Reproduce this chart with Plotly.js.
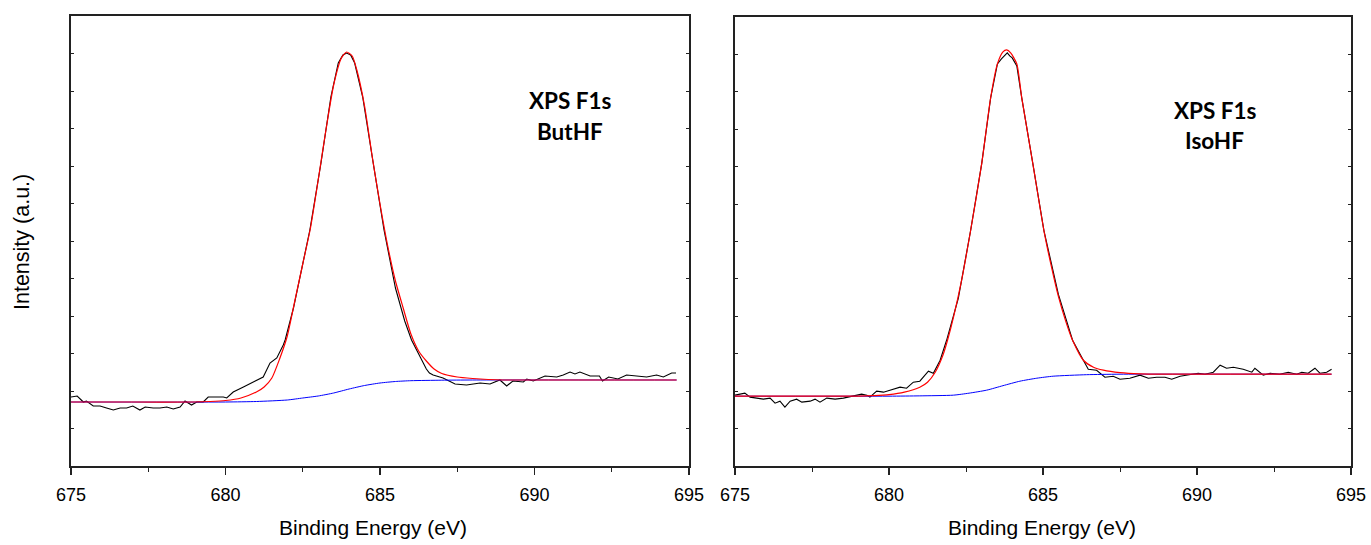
<!DOCTYPE html>
<html>
<head>
<meta charset="utf-8">
<script src="https://cdn.plot.ly/plotly-3.0.1.min.js"></script>
<style>
html,body{margin:0;padding:0;background:#fff;}
#chart{width:1371px;height:545px;}
</style>
</head>
<body>
<div id="chart"></div>
<script>
// ---- Left panel: ButHF (intensity in arbitrary units) ----
const butE = [675.0,675.2,675.4,675.5,675.72,675.94,676.15,676.37,676.59,676.8,677.0,677.23,677.4,677.66,677.88,678.1,678.31,678.53,678.69,678.9,679.07,679.28,679.44,679.7,679.93,680.04,680.25,680.58,680.9,681.22,681.44,681.66,681.87,681.93,682.2,682.45,682.73,683.09,683.41,683.65,683.8,683.92,684.05,684.18,684.44,684.78,685.13,685.5,685.8,686.02,686.35,686.5,686.6,686.72,687.04,687.43,687.8,688.24,688.56,688.88,689.1,689.3,689.64,689.75,689.96,690.34,690.72,690.93,691.15,691.31,691.47,691.8,692.1,692.2,692.4,692.7,692.98,693.3,693.63,693.95,694.17,694.44,694.58];
const butRaw = [69,70,64,65,60,60,58,56,58,58,60,56,59,58,58,59,57,59,65,61,64,64,69,69,69,68,74,79,84,89,103,108,121,126,158,196,236,303,369,403,411,413,411,403,369,303,236,178,145,126,106,97,93,91,88,82,81,83,82,86,80,85,84,87,85,90,89,91,94,92,94,90,90,85,89,87,91,90,89,91,89,93,93];
const butFitE = [675.0,677.0,679.0,679.5,680.0,680.5,681.0,681.25,681.5,681.75,682.0,682.25,682.5,682.75,683.0,683.25,683.5,683.75,683.92,684.1,684.25,684.5,684.75,685.0,685.25,685.5,685.75,686.0,686.25,686.5,686.75,687.0,687.5,688.0,688.5,689.0,690.0,694.6];
const butFit = [64,64,64,64.5,65.5,68,74,79,88,107,130,166,202,238,286,336,381,408,414,410,396,360,309,262,220,185,158,132,115,105,97,92.5,89,87.5,86.5,86,86,86];
const butBgE = [675.0,680.0,681.0,682.0,682.5,683.0,683.5,684.0,684.5,685.0,685.5,686.0,687.0,688.0,694.6];
const butBg = [64,64,64.5,66,68,70,73,77,80.5,83,84.5,85.3,85.8,86,86];

// ---- Right panel: IsoHF ----
const isoE = [675.0,675.16,675.32,675.49,675.7,675.92,676.14,676.3,676.46,676.62,676.79,677.0,677.17,677.44,677.6,677.76,677.98,678.25,678.52,678.84,679.11,679.28,679.38,679.6,679.82,680.03,680.36,680.57,680.79,681.0,681.28,681.44,681.66,681.87,682.25,682.65,683.01,683.3,683.52,683.65,683.75,683.84,683.92,684.0,684.15,684.31,684.67,685.03,685.5,685.96,686.31,686.47,686.74,687.01,687.28,687.5,687.82,688.15,688.42,688.69,688.96,689.18,689.45,689.77,690.04,690.26,690.53,690.75,690.96,691.18,691.5,691.78,691.88,692.15,692.37,692.69,692.96,693.24,693.4,693.61,693.83,693.99,694.21,694.37];
const isoRaw = [71,72,73,69,68,67,68,63,65,59,65,67,64,65,67,64,68,67,68,70,72,71,69,75,74,76,79,78,84,85,95,93,106,126,168,236,303,369,403,408,411,414,411,409,401,369,303,236,172,126,106,97,96,89,90,87,88,91,88,89,89,87,90,92,93,92,94,101,98,99,97,94,98,91,93,92,94,92,94,93,98,93,94,97];
const isoFitE = [675.0,678.0,679.0,679.5,680.0,680.5,681.0,681.25,681.5,681.75,681.9,682.1,682.35,682.65,683.01,683.3,683.52,683.7,683.82,683.95,684.15,684.31,684.67,685.03,685.25,685.5,685.75,685.96,686.31,686.64,686.96,687.5,688.15,689.0,694.37];
const isoFit = [70,70,70,70.5,71.5,74,79,84,94,111,126,150,185,236,303,369,403,415,417,414,403,369,303,236,203,170,144,126,106,99,96,93.5,92.3,92,92];
const isoBgE = [675.0,680.0,681.0,682.09,682.6,683.17,683.7,684.25,684.8,685.33,686.41,687.5,694.37];
const isoBg = [70,70,70.3,71,73,76,80.5,85,88,90,91.5,92,92];

const xTicks = [675,680,685,690,695];

const W = 1371, H = 545;
const dom1 = [71/W, 689/W];
const dom2 = [735/W, 1351/W];
const ydom1 = [1-466/H, 1-16/H];
const ydom2 = [1-466/H, 1-17/H];

const AXFONT = '"Liberation Sans", Arial, sans-serif';
const LBLFONT = 'Lato, "Open Sans", sans-serif';

function lineTrace(x, y, color, w, shape, xa, ya) {
  return {x:x, y:y, type:'scatter', mode:'lines', xaxis:xa, yaxis:ya,
          line:{color:color, width:w, shape:shape, smoothing:0.6}, hoverinfo:'skip', showlegend:false};
}

const traces = [
  lineTrace(butE, butRaw, '#000000', 1.1, 'linear', 'x', 'y'),
  lineTrace(butBgE, butBg, '#0000ff', 1, 'spline', 'x', 'y'),
  lineTrace(butFitE, butFit, '#ff0000', 1.2, 'spline', 'x', 'y'),
  lineTrace(isoE, isoRaw, '#000000', 1.1, 'linear', 'x2', 'y2'),
  lineTrace(isoBgE, isoBg, '#0000ff', 1, 'spline', 'x2', 'y2'),
  lineTrace(isoFitE, isoFit, '#ff0000', 1.2, 'spline', 'x2', 'y2')
];

function xAxis(domain, ya) {
  return {
    domain: domain, range:[675,695], anchor:ya,
    tickmode:'array', tickvals:xTicks, ticktext:xTicks.map(String),
    ticks:'outside', ticklen:7, tickwidth:1.2, tickcolor:'#222',
    minor:{dtick:2.5, tick0:675, ticks:'outside', ticklen:4, tickwidth:1, tickcolor:'#222'},
    showline:true, linecolor:'#222', linewidth:2, mirror:true,
    showgrid:false, zeroline:false, ticklabelstandoff:4,
    tickfont:{family:AXFONT, size:18, color:'#000'}
  };
}
function yAxis(domain, xa) {
  return {domain: domain, range:[0,450], anchor:xa, showticklabels:false,
          ticks:'inside', ticklen:3, tickwidth:1, tickcolor:'#222', dtick:37.5, tick0:0,
          showline:true, linecolor:'#222', linewidth:2, mirror:'ticks',
          showgrid:false, zeroline:false};
}

function ann(text, x, y, font, size, angle) {
  return {text:text, xref:'paper', yref:'paper', x:x/W, y:1-y/H, xanchor:'center', yanchor:'middle',
          showarrow:false, textangle:angle||0, font:{family:font, size:size, color:'#000'}};
}

const layout = {
  width:W, height:H,
  margin:{l:0, r:0, t:0, b:0},
  paper_bgcolor:'#fff', plot_bgcolor:'#fff',
  showlegend:false,
  xaxis: xAxis(dom1, 'y'),
  xaxis2: xAxis(dom2, 'y2'),
  yaxis: yAxis(ydom1, 'x'),
  yaxis2: yAxis(ydom2, 'x2'),
  annotations: [
    ann('<b>XPS F1s</b>', 570, 100, LBLFONT, 22.5),
    ann('<b>ButHF</b>', 570, 131, LBLFONT, 22.5),
    ann('<b>XPS F1s</b>', 1215, 110, LBLFONT, 22.5),
    ann('<b>IsoHF</b>', 1214, 141, LBLFONT, 22.5),
    ann('Binding Energy (eV)', 373, 527, AXFONT, 21),
    ann('Binding Energy (eV)', 1042, 527, AXFONT, 21),
    ann('Intensity (a.u.)', 22, 242, AXFONT, 21.5, -90)
  ]
};

Plotly.newPlot('chart', traces, layout, {staticPlot:true, displayModeBar:false});
</script>
</body>
</html>
